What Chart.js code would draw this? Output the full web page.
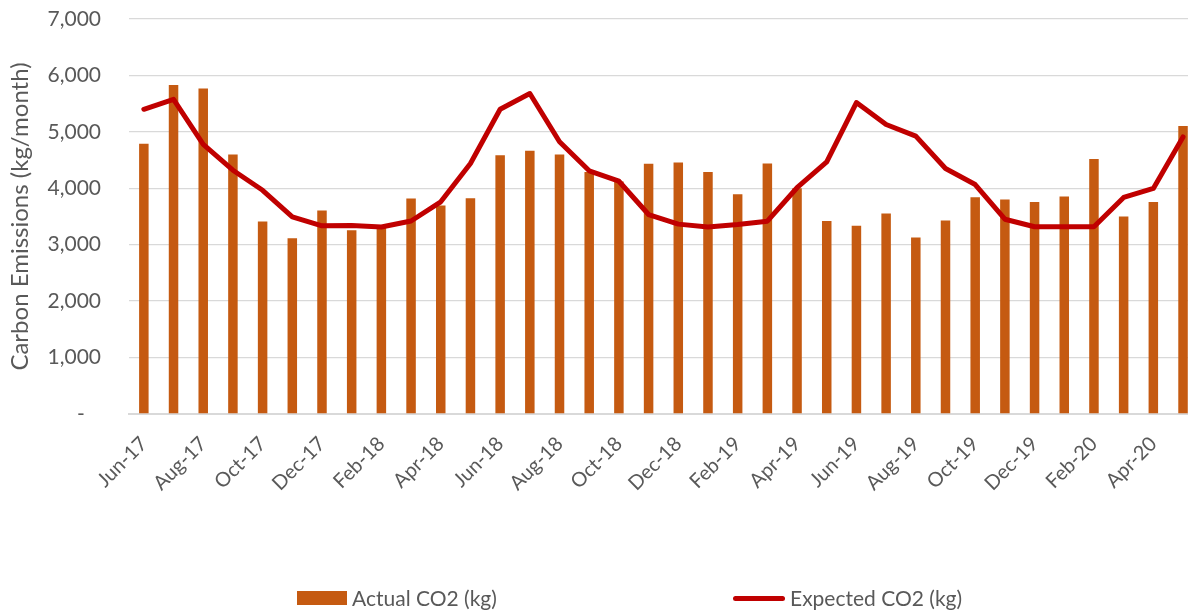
<!DOCTYPE html>
<html>
<head>
<meta charset="utf-8">
<script src="https://cdn.jsdelivr.net/npm/chart.js@4.4.1/dist/chart.umd.min.js"></script>
<style>
  html, body { margin: 0; padding: 0; background: #fff; overflow: hidden; }
  #wrap { position: relative; width: 1188px; height: 613px; overflow: hidden; }
  #box { position: absolute; left: 0; top: 0; width: 1218px; height: 613px; }
  .leg { position: absolute; top: 585px; font-family: Lato, sans-serif; font-size: 21px; color: #595959; white-space: nowrap; }
  .sw { position: absolute; }
</style>
</head>
<body>
<div id="wrap">
  <div id="box"><canvas id="co2Chart"></canvas></div>
  <div class="sw" style="left:297px; top:591px; width:50px; height:14px; background:#C55A11;"></div>
  <div class="leg" style="left:352px;">Actual CO2 (kg)</div>
  <div class="sw" style="left:733px; top:596px; width:52px; height:5px; border-radius:3px; background:#C00000;"></div>
  <div class="leg" style="left:790px;">Expected CO2 (kg)</div>
</div>
<script>
// months, Jun-17 .. May-20
const months = [
    'Jun-17', 'Jul-17', 'Aug-17', 'Sep-17', 'Oct-17', 'Nov-17', 'Dec-17',
    'Jan-18', 'Feb-18', 'Mar-18', 'Apr-18', 'May-18', 'Jun-18', 'Jul-18',
    'Aug-18', 'Sep-18', 'Oct-18', 'Nov-18', 'Dec-18', 'Jan-19', 'Feb-19',
    'Mar-19', 'Apr-19', 'May-19', 'Jun-19', 'Jul-19', 'Aug-19', 'Sep-19',
    'Oct-19', 'Nov-19', 'Dec-19', 'Jan-20', 'Feb-20', 'Mar-20', 'Apr-20', 'May-20'
];

// actual CO2 (bars)
const actualCO2 = [
    4790, 5830, 5770, 4600, 3410, 3115, 3605,
    3255, 3300, 3820, 3695, 3825, 4585, 4665,
    4600, 4290, 4120, 4435, 4455, 4290, 3895,
    4440, 4000, 3420, 3335, 3555, 3130, 3430,
    3840, 3800, 3755, 3855, 4520, 3500, 3755, 5105
];

// expected CO2 (line)
const expectedCO2 = [
    5400, 5575, 4780, 4320, 3965, 3495, 3335,
    3340, 3315, 3420, 3760, 4440, 5400, 5680,
    4825, 4310, 4125, 3535, 3365, 3315, 3358,
    3417, 4010, 4468, 5520, 5130, 4925, 4350,
    4067, 3452, 3318, 3318, 3318, 3837, 3998, 4910
];

const yTicks = [0, 1000, 2000, 3000, 4000, 5000, 6000, 7000];

const grey = '#595959';
const font = 'Lato';

const ctx = document.getElementById('co2Chart').getContext('2d');
new Chart(ctx, {
    type: 'bar',
    data: {
        labels: months,
        datasets: [
            {
                type: 'line',
                label: 'Expected CO2 (kg)',
                data: expectedCO2,
                borderColor: '#C00000',
                borderWidth: 5,
                pointRadius: 0,
                tension: 0,
                borderJoinStyle: 'round',
                borderCapStyle: 'round',
                order: 0
            },
            {
                label: 'Actual CO2 (kg)',
                data: actualCO2,
                backgroundColor: '#C55A11',
                categoryPercentage: 1,
                barPercentage: 0.32,
                order: 1
            }
        ]
    },
    options: {
        responsive: true,
        maintainAspectRatio: false,
        animation: false,
        layout: { padding: { top: 19, left: 0, right: 0, bottom: 0 } },
        plugins: {
            legend: { display: false },
            tooltip: { enabled: false }
        },
        scales: {
            x: {
                grid: { display: false, drawTicks: false },
                border: { color: '#d9d9d9', width: 2 },
                ticks: {
                    autoSkip: false,
                    maxRotation: 45,
                    minRotation: 45,
                    padding: 18,
                    color: grey,
                    font: { family: font, size: 20 },
                    callback: (v, i) => (i % 2 === 0 ? months[i] : '')
                },
                afterFit: (s) => { s.height = 199; }
            },
            y: {
                min: 0,
                max: 7000,
                afterBuildTicks: (s) => { s.ticks = yTicks.map(v => ({ value: v })); },
                grid: { color: '#d9d9d9', lineWidth: 1.3, drawTicks: false },
                border: { display: false },
                ticks: {
                    padding: 28,
                    color: grey,
                    font: { family: font, size: 21 },
                    callback: (v) => (v === 0 ? '-   ' : v.toLocaleString('en-US'))
                },
                title: {
                    display: true,
                    text: 'Carbon Emissions (kg/month)',
                    color: grey,
                    font: { family: font, size: 24 },
                    padding: { top: 6, bottom: 0 }
                },
                afterFit: (s) => {
                    s.width = 129;
                    s.paddingTop = 0;
                    s.paddingBottom = 0;
                }
            }
        }
    }
});
</script>
</body>
</html>
